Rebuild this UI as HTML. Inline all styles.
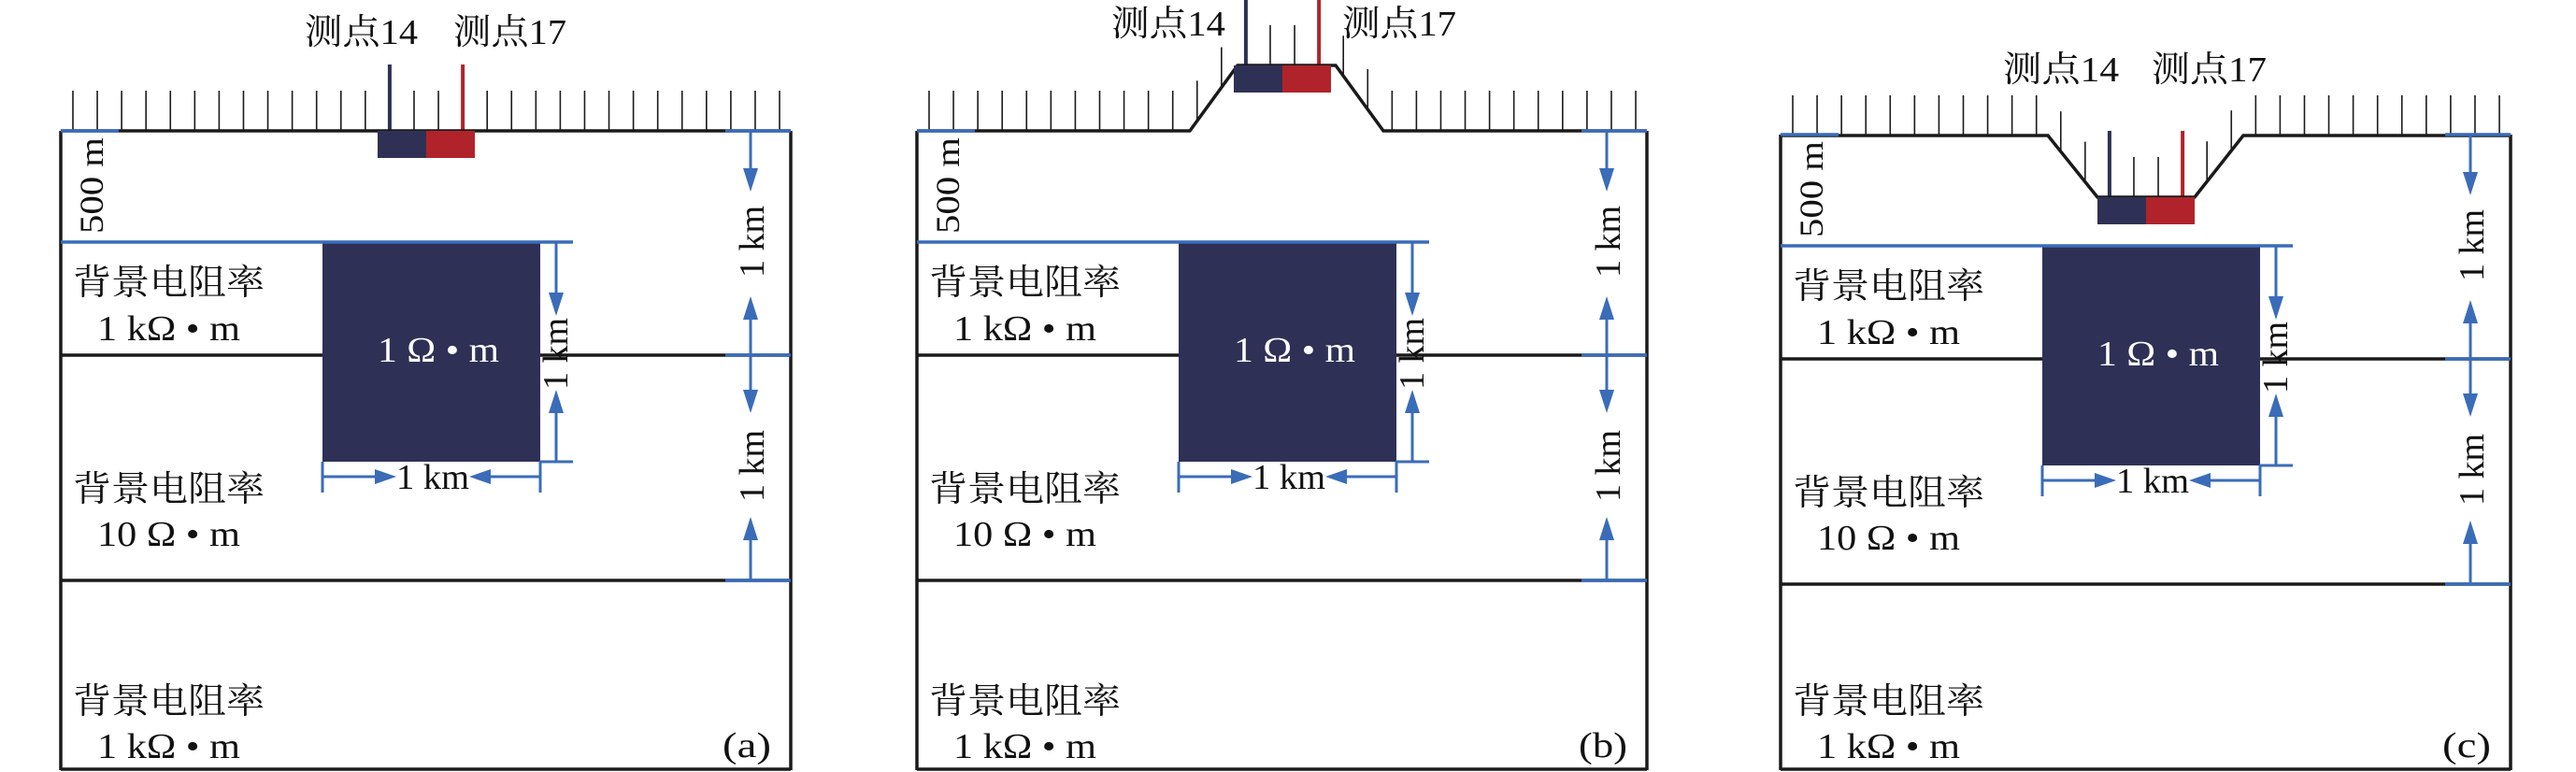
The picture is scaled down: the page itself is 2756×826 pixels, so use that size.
<!DOCTYPE html>
<html><head><meta charset="utf-8"><style>
html,body{margin:0;padding:0;background:#fff;}
svg{display:block;}
text{font-family:"Liberation Serif","Noto Serif CJK SC",serif;fill:#111;}
</style></head><body>
<svg id="s" width="2756" height="826" viewBox="0 0 2756 826" xmlns="http://www.w3.org/2000/svg">
<g id="g"></g>
<text x="326" y="47" font-size="38" textLength="121" lengthAdjust="spacingAndGlyphs">测点14</text>
<text x="485" y="47" font-size="38" textLength="121" lengthAdjust="spacingAndGlyphs">测点17</text>
<text x="1189" y="38" font-size="38" textLength="122" lengthAdjust="spacingAndGlyphs">测点14</text>
<text x="1436" y="38" font-size="38" textLength="122" lengthAdjust="spacingAndGlyphs">测点17</text>
<text x="2143" y="87" font-size="38" textLength="124" lengthAdjust="spacingAndGlyphs">测点14</text>
<text x="2302" y="87" font-size="38" textLength="123" lengthAdjust="spacingAndGlyphs">测点17</text>

<g id="pa">
<text x="78" y="315" font-size="38" textLength="205" lengthAdjust="spacingAndGlyphs">背景电阻率</text>
<text x="104" y="364" font-size="38" textLength="153" lengthAdjust="spacingAndGlyphs">1 kΩ • m</text>
<text x="78" y="536" font-size="38" textLength="205" lengthAdjust="spacingAndGlyphs">背景电阻率</text>
<text x="104" y="584" font-size="38" textLength="153" lengthAdjust="spacingAndGlyphs">10 Ω • m</text>
<text x="78" y="763" font-size="38" textLength="205" lengthAdjust="spacingAndGlyphs">背景电阻率</text>
<text x="104" y="811" font-size="38" textLength="153" lengthAdjust="spacingAndGlyphs">1 kΩ • m</text>
<text x="404" y="387" font-size="38" textLength="130" lengthAdjust="spacingAndGlyphs" style="fill:#fff">1 Ω • m</text>
<text x="424" y="523" font-size="38" textLength="78" lengthAdjust="spacingAndGlyphs">1 km</text>
<text x="773" y="810" font-size="38" textLength="52" lengthAdjust="spacingAndGlyphs">(a)</text>
<text transform="translate(110,250) rotate(-90)" font-size="36" textLength="103" lengthAdjust="spacingAndGlyphs">500 m</text>
<text transform="translate(817,297) rotate(-90)" font-size="38" textLength="77" lengthAdjust="spacingAndGlyphs">1 km</text>
<text transform="translate(817,537) rotate(-90)" font-size="38" textLength="77" lengthAdjust="spacingAndGlyphs">1 km</text>
<text transform="translate(607,417) rotate(-90)" font-size="38" textLength="77" lengthAdjust="spacingAndGlyphs">1 km</text>
</g>
</svg>
<script>
(function(){
var svg=document.getElementById('s'),g=document.getElementById('g');
var BL="#3a6cb8",NV="#2e3155",RD="#b0232a",BK="#1a1a1a";
var h="";
function L(x1,y1,x2,y2,c,w){h+='<line x1="'+x1+'" y1="'+y1+'" x2="'+x2+'" y2="'+y2+'" stroke="'+c+'" stroke-width="'+(w||3)+'"/>';}
function R(x,y,w,hh,c){h+='<rect x="'+x+'" y="'+y+'" width="'+w+'" height="'+hh+'" fill="'+c+'"/>';}
function P(pts,c){h+='<polygon points="'+pts+'" fill="'+c+'"/>';}
function down(x,y){P((x-8)+','+(y-25)+' '+(x+8)+','+(y-25)+' '+x+','+y,BL);}
function up(x,y){P((x-8)+','+(y+25)+' '+(x+8)+','+(y+25)+' '+x+','+y,BL);}
function right(x,y){P((x-23)+','+(y-8)+' '+(x-23)+','+(y+8)+' '+x+','+y,BL);}
function left(x,y){P((x+23)+','+(y-8)+' '+(x+23)+','+(y+8)+' '+x+','+y,BL);}
function panel(dx,dy,prof){
  function X(x){return x+dx;}
  function surf(x){for(var i=0;i<prof.length-1;i++){var a=prof[i],b=prof[i+1];if(x>=a[0]&&x<=b[0]){return a[1]+(b[1]-a[1])*(x-a[0])/(b[0]-a[0]);}}return prof[0][1];}
  var S=140+dy,R_=846;
  for(var k=0;k<30;k++){var x=78+k*26.07,s=surf(x);
    if(k==13){L(X(x),s-71,X(x),s,NV,4);continue;}
    if(k==16){L(X(x),s-71,X(x),s,RD,4);continue;}
    L(X(x),s-43,X(x),s,BK,1.6);}
  var pts=prof.map(function(p){return X(p[0])+','+p[1];}).join(' ');
  h+='<polyline points="'+pts+'" fill="none" stroke="'+BK+'" stroke-width="3.5"/>';
  var es=surf(430);
  R(X(404),es,52,29,NV);R(X(456),es,52,29,RD);
  L(X(65),S,X(65),824,BK,3.5);L(X(R_),S,X(R_),824,BK,3.5);L(X(65),823,X(R_),823,BK,3.5);
  L(X(65),380+dy,X(R_),380+dy,BK,3.5);L(X(65),621+dy,X(R_),621+dy,BK,3.5);
  L(X(65),S,X(127),S,BL,3.5);L(X(776),S,X(R_),S,BL,3.5);
  L(X(776),380+dy,X(R_),380+dy,BL,3.5);L(X(776),621+dy,X(R_),621+dy,BL,3.5);
  R(X(345),259+dy,233,235,NV);
  L(X(65),259+dy,X(613),259+dy,BL,3.5);
  L(X(595),259+dy,X(595),320+dy,BL);down(X(595),338+dy);
  L(X(595),435+dy,X(595),494+dy,BL);up(X(595),417+dy);
  L(X(577),494+dy,X(613),494+dy,BL);
  L(X(345),494+dy,X(345),527+dy,BL);L(X(578),494+dy,X(578),527+dy,BL);
  L(X(345),510+dy,X(405),510+dy,BL);right(X(424),510+dy);
  L(X(520),510+dy,X(578),510+dy,BL);left(X(502),510+dy);
  L(X(803),S,X(803),185+dy,BL);down(X(803),205+dy);
  L(X(803),335+dy,X(803),425+dy,BL);up(X(803),317+dy);down(X(803),442+dy);
  L(X(803),570+dy,X(803),621+dy,BL);up(X(803),553+dy);
}
panel(0,0,[[65,140],[846,140]]);
panel(916,0,[[65,140],[357,140],[408,70],[513,70],[564,140],[846,140]]);
panel(1840,4,[[65,145],[351,145],[404,211],[508,211],[560,145],[846,145]]);
g.innerHTML=h;
var pa=document.getElementById('pa');
var pb=pa.cloneNode(true);pb.id='pb';pb.setAttribute('transform','translate(916,0)');
pb.querySelectorAll('text')[8].textContent='(b)';svg.appendChild(pb);
var pc=pa.cloneNode(true);pc.id='pc';pc.setAttribute('transform','translate(1840,4)');
var t5=pc.querySelectorAll('text');
t5[8].textContent='(c)';
t5[4].setAttribute('y','759');t5[5].setAttribute('y','807');t5[8].setAttribute('y','806');
svg.appendChild(pc);
})();
</script>
</body></html>
